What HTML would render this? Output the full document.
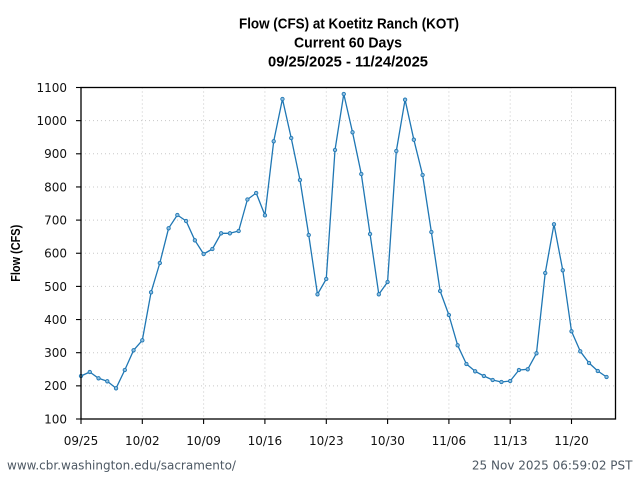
<!DOCTYPE html>
<html>
<head>
<meta charset="utf-8">
<style>
html,body{margin:0;padding:0;background:#fff;}
body{width:640px;height:480px;overflow:hidden;}
svg{display:block;}
.tick{font-family:"DejaVu Sans","Liberation Sans",sans-serif;font-size:12px;fill:#111;}
.title{font-family:"Liberation Sans","DejaVu Sans",sans-serif;font-weight:bold;font-size:15px;fill:#000;}
.foot{font-family:"DejaVu Sans","Liberation Sans",sans-serif;font-size:12px;fill:#4d5863;}
</style>
</head>
<body>
<svg width="640" height="480" viewBox="0 0 640 480" xmlns="http://www.w3.org/2000/svg">
<rect x="0" y="0" width="640" height="480" fill="#fff"/>
<text class="title" x="349" y="28.7" text-anchor="middle" textLength="220" lengthAdjust="spacingAndGlyphs">Flow (CFS) at Koetitz Ranch (KOT)</text>
<text class="title" x="348" y="47.5" text-anchor="middle" textLength="108" lengthAdjust="spacingAndGlyphs">Current 60 Days</text>
<text class="title" x="348" y="66.3" text-anchor="middle" textLength="160" lengthAdjust="spacingAndGlyphs">09/25/2025 - 11/24/2025</text>
<g stroke="#c8c8c8" stroke-width="1" stroke-dasharray="1,3">
<line x1="81" y1="385.85" x2="615.5" y2="385.85"/>
<line x1="81" y1="352.7" x2="615.5" y2="352.7"/>
<line x1="81" y1="319.55" x2="615.5" y2="319.55"/>
<line x1="81" y1="286.4" x2="615.5" y2="286.4"/>
<line x1="81" y1="253.25" x2="615.5" y2="253.25"/>
<line x1="81" y1="220.1" x2="615.5" y2="220.1"/>
<line x1="81" y1="186.95" x2="615.5" y2="186.95"/>
<line x1="81" y1="153.8" x2="615.5" y2="153.8"/>
<line x1="81" y1="120.65" x2="615.5" y2="120.65"/>
<line x1="142.3" y1="87.5" x2="142.3" y2="419"/>
<line x1="203.6" y1="87.5" x2="203.6" y2="419"/>
<line x1="264.9" y1="87.5" x2="264.9" y2="419"/>
<line x1="326.3" y1="87.5" x2="326.3" y2="419"/>
<line x1="387.6" y1="87.5" x2="387.6" y2="419"/>
<line x1="448.9" y1="87.5" x2="448.9" y2="419"/>
<line x1="510.2" y1="87.5" x2="510.2" y2="419"/>
<line x1="571.5" y1="87.5" x2="571.5" y2="419"/>
</g>
<polyline fill="none" stroke="#1f77b4" stroke-width="1.3" stroke-linejoin="round" points="81,376 89.76,372 98.52,378.3 107.28,381.3 116.04,388.3 124.8,370 133.55,350.3 142.31,340.3 151.07,292.3 159.83,263 168.59,228.3 177.35,215 186.11,221 194.87,240.3 203.63,254 212.39,249 221.14,233.3 229.9,233.3 238.66,231 247.42,199.5 256.18,193 264.94,215.3 273.7,141.3 282.46,99 291.22,138 299.98,180 308.73,235 317.49,294.3 326.25,279 335.01,150 343.77,94 352.53,132.3 361.29,174 370.05,234 378.81,294.3 387.57,282 396.32,151 405.08,99.7 413.84,139.7 422.6,175 431.36,232 440.12,291 448.88,315 457.64,345.3 466.4,364 475.16,371.3 483.91,376 492.67,380 501.43,382 510.19,381 518.95,370 527.71,369.3 536.47,353.3 545.23,273 553.99,224.3 562.75,270.3 571.5,331.3 580.26,351.3 589.02,363 597.78,371 606.54,377"/>
<g fill="#8fbfe0" stroke="#1f77b4" stroke-width="0.9">
<circle cx="81" cy="376" r="1.7"/>
<circle cx="89.76" cy="372" r="1.7"/>
<circle cx="98.52" cy="378.3" r="1.7"/>
<circle cx="107.28" cy="381.3" r="1.7"/>
<circle cx="116.04" cy="388.3" r="1.7"/>
<circle cx="124.8" cy="370" r="1.7"/>
<circle cx="133.55" cy="350.3" r="1.7"/>
<circle cx="142.31" cy="340.3" r="1.7"/>
<circle cx="151.07" cy="292.3" r="1.7"/>
<circle cx="159.83" cy="263" r="1.7"/>
<circle cx="168.59" cy="228.3" r="1.7"/>
<circle cx="177.35" cy="215" r="1.7"/>
<circle cx="186.11" cy="221" r="1.7"/>
<circle cx="194.87" cy="240.3" r="1.7"/>
<circle cx="203.63" cy="254" r="1.7"/>
<circle cx="212.39" cy="249" r="1.7"/>
<circle cx="221.14" cy="233.3" r="1.7"/>
<circle cx="229.9" cy="233.3" r="1.7"/>
<circle cx="238.66" cy="231" r="1.7"/>
<circle cx="247.42" cy="199.5" r="1.7"/>
<circle cx="256.18" cy="193" r="1.7"/>
<circle cx="264.94" cy="215.3" r="1.7"/>
<circle cx="273.7" cy="141.3" r="1.7"/>
<circle cx="282.46" cy="99" r="1.7"/>
<circle cx="291.22" cy="138" r="1.7"/>
<circle cx="299.98" cy="180" r="1.7"/>
<circle cx="308.73" cy="235" r="1.7"/>
<circle cx="317.49" cy="294.3" r="1.7"/>
<circle cx="326.25" cy="279" r="1.7"/>
<circle cx="335.01" cy="150" r="1.7"/>
<circle cx="343.77" cy="94" r="1.7"/>
<circle cx="352.53" cy="132.3" r="1.7"/>
<circle cx="361.29" cy="174" r="1.7"/>
<circle cx="370.05" cy="234" r="1.7"/>
<circle cx="378.81" cy="294.3" r="1.7"/>
<circle cx="387.57" cy="282" r="1.7"/>
<circle cx="396.32" cy="151" r="1.7"/>
<circle cx="405.08" cy="99.7" r="1.7"/>
<circle cx="413.84" cy="139.7" r="1.7"/>
<circle cx="422.6" cy="175" r="1.7"/>
<circle cx="431.36" cy="232" r="1.7"/>
<circle cx="440.12" cy="291" r="1.7"/>
<circle cx="448.88" cy="315" r="1.7"/>
<circle cx="457.64" cy="345.3" r="1.7"/>
<circle cx="466.4" cy="364" r="1.7"/>
<circle cx="475.16" cy="371.3" r="1.7"/>
<circle cx="483.91" cy="376" r="1.7"/>
<circle cx="492.67" cy="380" r="1.7"/>
<circle cx="501.43" cy="382" r="1.7"/>
<circle cx="510.19" cy="381" r="1.7"/>
<circle cx="518.95" cy="370" r="1.7"/>
<circle cx="527.71" cy="369.3" r="1.7"/>
<circle cx="536.47" cy="353.3" r="1.7"/>
<circle cx="545.23" cy="273" r="1.7"/>
<circle cx="553.99" cy="224.3" r="1.7"/>
<circle cx="562.75" cy="270.3" r="1.7"/>
<circle cx="571.5" cy="331.3" r="1.7"/>
<circle cx="580.26" cy="351.3" r="1.7"/>
<circle cx="589.02" cy="363" r="1.7"/>
<circle cx="597.78" cy="371" r="1.7"/>
<circle cx="606.54" cy="377" r="1.7"/>
</g>
<rect x="81" y="87.5" width="534.5" height="331.5" fill="none" stroke="#000" stroke-width="1.3"/>
<g stroke="#000" stroke-width="1.1">
<line x1="76" y1="419" x2="81" y2="419"/>
<line x1="76" y1="385.85" x2="81" y2="385.85"/>
<line x1="76" y1="352.7" x2="81" y2="352.7"/>
<line x1="76" y1="319.55" x2="81" y2="319.55"/>
<line x1="76" y1="286.4" x2="81" y2="286.4"/>
<line x1="76" y1="253.25" x2="81" y2="253.25"/>
<line x1="76" y1="220.1" x2="81" y2="220.1"/>
<line x1="76" y1="186.95" x2="81" y2="186.95"/>
<line x1="76" y1="153.8" x2="81" y2="153.8"/>
<line x1="76" y1="120.65" x2="81" y2="120.65"/>
<line x1="76" y1="87.5" x2="81" y2="87.5"/>
<line x1="81" y1="419" x2="81" y2="424"/>
<line x1="142.3" y1="419" x2="142.3" y2="424"/>
<line x1="203.6" y1="419" x2="203.6" y2="424"/>
<line x1="264.9" y1="419" x2="264.9" y2="424"/>
<line x1="326.3" y1="419" x2="326.3" y2="424"/>
<line x1="387.6" y1="419" x2="387.6" y2="424"/>
<line x1="448.9" y1="419" x2="448.9" y2="424"/>
<line x1="510.2" y1="419" x2="510.2" y2="424"/>
<line x1="571.5" y1="419" x2="571.5" y2="424"/>
</g>
<g class="tick" text-anchor="end">
<text x="67" y="423.4">100</text>
<text x="67" y="390.2">200</text>
<text x="67" y="357.1">300</text>
<text x="67" y="323.9">400</text>
<text x="67" y="290.8">500</text>
<text x="67" y="257.6">600</text>
<text x="67" y="224.5">700</text>
<text x="67" y="191.3">800</text>
<text x="67" y="158.2">900</text>
<text x="67" y="125">1000</text>
<text x="67" y="91.9">1100</text>
</g>
<g class="tick" text-anchor="middle">
<text x="81" y="445">09/25</text>
<text x="142.3" y="445">10/02</text>
<text x="203.6" y="445">10/09</text>
<text x="264.9" y="445">10/16</text>
<text x="326.3" y="445">10/23</text>
<text x="387.6" y="445">10/30</text>
<text x="448.9" y="445">11/06</text>
<text x="510.2" y="445">11/13</text>
<text x="571.5" y="445">11/20</text>
</g>
<text x="0" y="0" transform="translate(19.8,253.3) rotate(-90)" text-anchor="middle" font-family="'Liberation Sans','DejaVu Sans',sans-serif" font-weight="bold" font-size="12.5" fill="#000" textLength="57" lengthAdjust="spacingAndGlyphs">Flow (CFS)</text>
<text class="foot" x="7" y="469.5">www.cbr.washington.edu/sacramento/</text>
<text class="foot" x="632.5" y="469.5" text-anchor="end">25 Nov 2025 06:59:02 PST</text>
</svg>
</body>
</html>
